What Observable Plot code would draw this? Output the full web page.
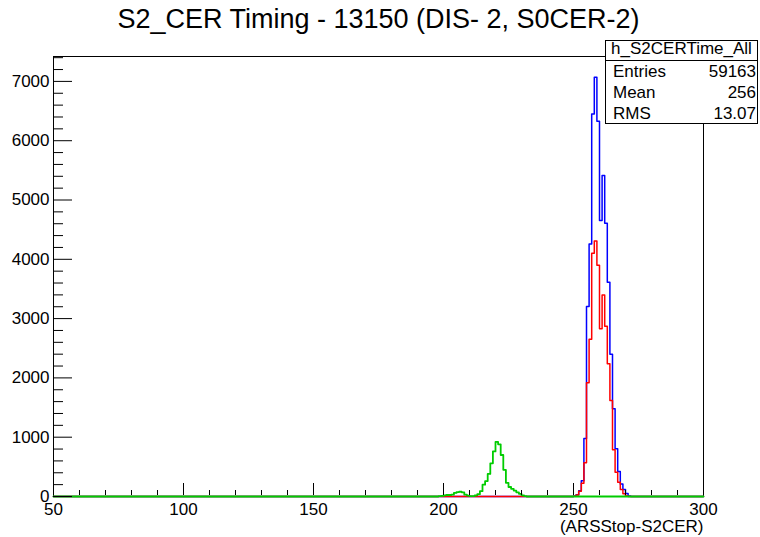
<!DOCTYPE html>
<html><head><meta charset="utf-8">
<script src="https://cdn.jsdelivr.net/npm/d3@7"></script>
<script src="https://cdn.jsdelivr.net/npm/@observablehq/plot@0.6"></script>
<style>
body{margin:0;background:#fff;font-family:"Liberation Sans",Arial,Helvetica,sans-serif;}
#wrap{position:relative;width:760px;height:537px;overflow:hidden;}
#stats{position:absolute;left:605px;top:40px;width:153px;height:84px;box-sizing:border-box;border:1px solid #000;background:#fff;font-size:17px;line-height:17px;color:#000;}
#stats .hdr{position:absolute;left:0;right:0;top:-1.3px;text-align:center;white-space:nowrap;}
#stats .div{position:absolute;left:0;right:0;top:19px;border-top:1px solid #000;}
#stats .lab{position:absolute;left:7px;white-space:nowrap;}
#stats .val{position:absolute;right:1px;white-space:nowrap;text-align:right;}
</style></head>
<body><div id="wrap"></div>
<script>
// ---- text ----
const title = "S2_CER Timing - 13150 (DIS- 2, S0CER-2)";
const xLabel = "(ARSStop-S2CER)";
const histName = "h_S2CERTime_All";
const statLabels = ["Entries", "Mean", "RMS"];
const statValues = ["59163", "256", "13.07"];

// ---- axes ----
const xMin = 50, xMax = 300, yMax = 7420;
const xMajorTicks = [50, 100, 150, 200, 250, 300];
const yMajorTicks = [0, 1000, 2000, 3000, 4000, 5000, 6000, 7000];

// ---- histogram bin contents (1-unit bins) ----
const blueStart = 250;
const blueCounts = [10, 30, 95, 265, 980, 3204, 4260, 6452, 7070, 6328, 4653, 5412, 4608, 3613, 2400, 1478, 804, 420, 210, 120, 50, 10];
const redStart = 250;
const redCounts = [5, 25, 90, 225, 570, 1920, 2650, 4100, 4310, 3900, 2830, 3400, 2870, 2237, 1620, 790, 410, 240, 120, 45, 10];
const greenStart = 198;
const greenCounts = [5, 10, 20, 25, 25, 30, 60, 75, 80, 70, 30, 15, 8, 8, 20, 40, 90, 200, 260, 380, 560, 760, 920, 880, 700, 450, 230, 160, 130, 100, 70, 45, 20, 8];

function expand(start, counts) {
  const out = [];
  for (let x = xMin; x < xMax; x++) {
    const i = x - start;
    out.push({x, y: (i >= 0 && i < counts.length) ? counts[i] : 0});
  }
  out.push({x: xMax, y: 0});
  return out;
}
const blueData = expand(blueStart, blueCounts);
const redData = expand(redStart, redCounts);
const greenData = expand(greenStart, greenCounts);

const W = 760, H = 537, mL = 53, mR = 57, mT = 56, mB = 41;
const innerW = W - mL - mR, innerH = H - mT - mB;
const xMinorTicks = d3.range(xMin, xMax + 1, 10).filter(v => v % 50 !== 0);
const yMinorTicks = d3.range(0, yMax, 200).filter(v => v % 1000 !== 0);

const chart = Plot.plot({
  width: W, height: H,
  marginLeft: mL, marginRight: mR, marginTop: mT, marginBottom: mB,
  x: {domain: [xMin, xMax]},
  y: {domain: [0, yMax]},
  style: {fontFamily: '"Liberation Sans", Arial, sans-serif', fontSize: "17px", color: "#000", background: "#fff", overflow: "visible"},
  marks: [
    Plot.frame({stroke: "#000"}),
    Plot.line(blueData, {x: "x", y: "y", curve: "step-after", stroke: "#0000ff", strokeWidth: 1.5}),
    Plot.line(redData, {x: "x", y: "y", curve: "step-after", stroke: "#ff0000", strokeWidth: 1.5}),
    Plot.line(greenData, {x: "x", y: "y", curve: "step-after", stroke: "#00cc00", strokeWidth: 1.8}),
    Plot.tickX(xMajorTicks, {x: d => d, insetTop: innerH - 13, insetBottom: 1, stroke: "#000"}),
    Plot.tickX(xMinorTicks, {x: d => d, insetTop: innerH - 6, insetBottom: 1, stroke: "#000"}),
    Plot.tickY(yMajorTicks, {y: d => d, insetRight: innerW - 19, stroke: "#000"}),
    Plot.tickY(yMinorTicks, {y: d => d, insetRight: innerW - 10, stroke: "#000"}),
    Plot.axisX({ticks: xMajorTicks, tickSize: 0, tickPadding: 6, label: null, tickFormat: d => String(d), fontSize: 17}),
    Plot.axisY({ticks: yMajorTicks, tickSize: 0, tickPadding: 4, label: null, tickFormat: d => String(d), fontSize: 17}),
    Plot.text([title], {frameAnchor: "top", lineAnchor: "middle", dy: -37, text: d => d, fontSize: 27, fill: "#000"}),
    Plot.text([xLabel], {frameAnchor: "bottom-right", lineAnchor: "middle", dy: 30, textAnchor: "end", text: d => d, fontSize: 17, fill: "#000"})
  ]
});
const wrap = document.getElementById("wrap");
wrap.appendChild(chart);

// stats box
const box = document.createElement("div");
box.id = "stats";
let html = `<div class="hdr">${histName}</div><div class="div"></div>`;
const tops = [22.2, 43.2, 64.2];
statLabels.forEach((l, i) => {
  html += `<div class="lab" style="top:${tops[i]}px">${l}</div><div class="val" style="top:${tops[i]}px">${statValues[i]}</div>`;
});
box.innerHTML = html;
wrap.appendChild(box);
</script>
</body></html>
